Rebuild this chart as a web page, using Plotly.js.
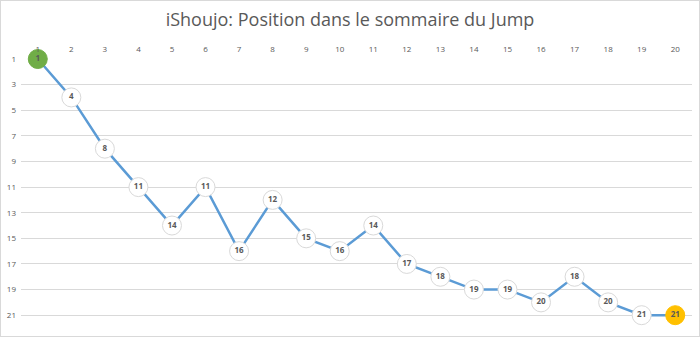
<!DOCTYPE html>
<html>
<head>
<meta charset="utf-8">
<script src="https://cdn.plot.ly/plotly-3.0.1.min.js"></script>
<style>
  html, body { margin: 0; padding: 0; background: #fff; }
  #wrap { position: relative; width: 700px; height: 337px; }
  #chart { width: 700px; height: 337px; }
  #frame { position: absolute; left: 0; top: 0; width: 698px; height: 335px; border: 1px solid #D9D9D9; pointer-events: none; }
</style>
</head>
<body>
<div id="wrap"><div id="chart"></div><div id="frame"></div></div>
<script>
const chapters = [1,2,3,4,5,6,7,8,9,10,11,12,13,14,15,16,17,18,19,20];
const positions = [1,4,8,11,14,11,16,12,15,16,14,17,18,19,19,20,18,20,21,21];
const yTicks = [1,3,5,7,9,11,13,15,17,19,21];
const titleText = 'iShoujo: Position dans le sommaire du Jump';

const n = positions.length;
const fillColors = positions.map((v, i) => i === 0 ? '#70AD47' : (i === n - 1 ? '#FFC000' : '#FFFFFF'));
const lineColors = positions.map((v, i) => i === 0 ? '#70AD47' : (i === n - 1 ? '#FFC000' : '#D9D9D9'));

const trace = {
  x: chapters,
  y: positions,
  type: 'scatter',
  mode: 'lines+markers+text',
  text: positions.map(String),
  textposition: 'middle center',
  textfont: { family: 'Open Sans, sans-serif', size: 8, color: '#595959', weight: 'bold' },
  line: { color: '#5B9BD5', width: 2.5 },
  marker: { size: 19, color: fillColors, line: { color: lineColors, width: 1 } },
  cliponaxis: false,
  hoverinfo: 'x+y'
};

const layout = {
  width: 700,
  height: 337,
  margin: { l: 21, r: 8, t: 59, b: 9 },
  paper_bgcolor: '#FFFFFF',
  plot_bgcolor: '#FFFFFF',
  showlegend: false,
  title: {
    text: titleText,
    font: { family: 'Open Sans, sans-serif', size: 18, color: '#595959' },
    x: 0.5, xanchor: 'center',
    y: 1 - 20 / 337, yref: 'container', yanchor: 'middle'
  },
  xaxis: {
    side: 'top',
    range: [0.5, 20.5],
    tickmode: 'array',
    tickvals: chapters,
    ticktext: chapters.map(String),
    showgrid: false,
    zeroline: false,
    showline: false,
    ticks: '',
    ticklabelstandoff: 4,
    tickfont: { family: 'Open Sans, sans-serif', size: 8, color: '#595959' },
    fixedrange: true
  },
  yaxis: {
    range: [22, 1],
    tickmode: 'array',
    tickvals: yTicks,
    ticktext: yTicks.map(String),
    showgrid: true,
    gridcolor: '#D9D9D9',
    gridwidth: 1,
    zeroline: false,
    showline: false,
    ticks: '',
    ticklabelstandoff: 4,
    tickfont: { family: 'Open Sans, sans-serif', size: 8, color: '#595959' },
    fixedrange: true
  }
};

Plotly.newPlot('chart', [trace], layout, { displayModeBar: false, staticPlot: true });
</script>
</body>
</html>
